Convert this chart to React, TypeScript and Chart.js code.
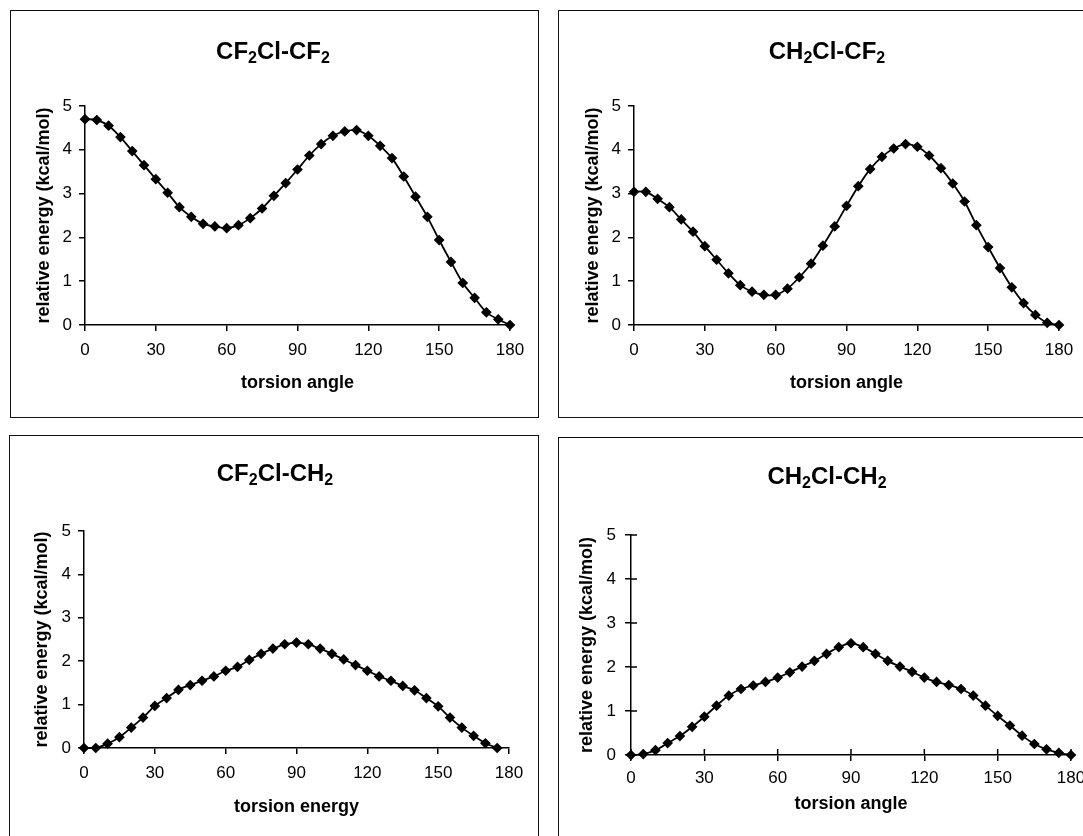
import React, { useEffect, useRef } from "react";
import { Chart, registerables } from "chart.js";

Chart.register(...registerables);

// ---------- data ----------
const angles = [0, 5, 10, 15, 20, 25, 30, 35, 40, 45, 50, 55, 60, 65, 70, 75, 80, 85, 90, 95, 100, 105, 110, 115, 120, 125, 130, 135, 140, 145, 150, 155, 160, 165, 170, 175, 180];
const xTickValues = [0, 30, 60, 90, 120, 150, 180];
const yTickValues = [0, 1, 2, 3, 4, 5];

const cf2clCf2 = [4.70, 4.68, 4.55, 4.29, 3.97, 3.65, 3.33, 3.02, 2.69, 2.47, 2.31, 2.25, 2.21, 2.28, 2.44, 2.66, 2.95, 3.24, 3.55, 3.87, 4.13, 4.32, 4.42, 4.45, 4.32, 4.09, 3.81, 3.39, 2.93, 2.47, 1.94, 1.44, 0.96, 0.62, 0.29, 0.13, 0.0];
const ch2clCf2 = [3.04, 3.04, 2.88, 2.69, 2.41, 2.13, 1.80, 1.49, 1.18, 0.91, 0.76, 0.69, 0.69, 0.83, 1.09, 1.40, 1.81, 2.25, 2.72, 3.17, 3.56, 3.84, 4.03, 4.13, 4.07, 3.87, 3.58, 3.23, 2.82, 2.28, 1.78, 1.30, 0.86, 0.50, 0.23, 0.05, 0.0];
const cf2clCh2 = [0, 0, 0.10, 0.25, 0.47, 0.70, 0.97, 1.15, 1.34, 1.45, 1.55, 1.65, 1.78, 1.87, 2.03, 2.17, 2.29, 2.39, 2.43, 2.39, 2.29, 2.17, 2.04, 1.91, 1.78, 1.65, 1.55, 1.43, 1.33, 1.15, 0.96, 0.70, 0.47, 0.28, 0.11, 0];
const ch2clCh2 = [0, 0.02, 0.11, 0.27, 0.43, 0.64, 0.87, 1.12, 1.35, 1.50, 1.58, 1.66, 1.76, 1.88, 2.01, 2.14, 2.30, 2.45, 2.54, 2.45, 2.30, 2.14, 2.01, 1.89, 1.76, 1.66, 1.59, 1.50, 1.35, 1.12, 0.89, 0.67, 0.44, 0.25, 0.13, 0.05, 0];

const titles: [string, boolean][][] = [
  [["CF", false], ["2", true], ["Cl-CF", false], ["2", true]],
  [["CH", false], ["2", true], ["Cl-CF", false], ["2", true]],
  [["CF", false], ["2", true], ["Cl-CH", false], ["2", true]],
  [["CH", false], ["2", true], ["Cl-CH", false], ["2", true]],
];
const xTitles = ["torsion angle", "torsion angle", "torsion energy", "torsion angle"];
const yTitle = "relative energy (kcal/mol)";
const seriesList = [cf2clCf2, ch2clCf2, cf2clCh2, ch2clCh2];

// ---------- layout (page coordinates) ----------
const FONT = "'Liberation Sans', Arial, sans-serif";
type Layout = {
  frame: { l: number; t: number; r: number; b: number };
  area: { l: number; t: number; r: number; b: number };
  titleX: number; titleY: number; xTitleY: number; yTitleX: number;
  xPad: number; yPad: number; cross: boolean;
};
const layouts: Layout[] = [
  { frame: { l: 11, t: 11, r: 538, b: 417 }, area: { l: 85, t: 106, r: 510, b: 325 }, titleX: 273, titleY: 50, xTitleY: 383, yTitleX: 44, xPad: 9, yPad: 7, cross: false },
  { frame: { l: 559, t: 11, r: 1095, b: 417 }, area: { l: 634, t: 106, r: 1059, b: 325 }, titleX: 827, titleY: 50, xTitleY: 383, yTitleX: 593, xPad: 9, yPad: 7, cross: false },
  { frame: { l: 10, t: 436, r: 538, b: 860 }, area: { l: 84, t: 531, r: 509, b: 748 }, titleX: 275, titleY: 472, xTitleY: 807, yTitleX: 42, xPad: 9, yPad: 7, cross: false },
  { frame: { l: 559, t: 438, r: 1095, b: 860 }, area: { l: 631, t: 535, r: 1071, b: 755 }, titleX: 827, titleY: 475, xTitleY: 804, yTitleX: 587, xPad: 7, yPad: 9, cross: true },
];

function makeTextPlugin(idx: number) {
  const L = layouts[idx];
  const ox = L.frame.l, oy = L.frame.t;
  return {
    id: "panelText" + idx,
    afterDraw(chart: any) {
      const { ctx, chartArea } = chart;
      ctx.save();
      ctx.fillStyle = "#000";
      // panel title with subscripts
      const big = `bold 24px ${FONT}`;
      const small = `bold 16px ${FONT}`;
      let total = 0;
      for (const [t, sub] of titles[idx]) {
        ctx.font = sub ? small : big;
        total += ctx.measureText(t).width;
      }
      let x = L.titleX - ox - total / 2;
      const base = L.titleY - oy + 8.5;
      ctx.textAlign = "left";
      ctx.textBaseline = "alphabetic";
      for (const [t, sub] of titles[idx]) {
        ctx.font = sub ? small : big;
        ctx.fillText(t, x, sub ? base + 4 : base);
        x += ctx.measureText(t).width;
      }
      // x title
      ctx.font = `bold 18px ${FONT}`;
      ctx.textAlign = "center";
      ctx.textBaseline = "middle";
      ctx.fillText(xTitles[idx], (chartArea.left + chartArea.right) / 2, L.xTitleY - oy);
      // y title
      ctx.save();
      ctx.translate(L.yTitleX - ox, (chartArea.top + chartArea.bottom) / 2);
      ctx.rotate(-Math.PI / 2);
      ctx.fillText(yTitle, 0, 0);
      ctx.restore();
      // inward tick marks (crossing ticks)
      if (L.cross) {
        const xs = chart.scales.x, ys = chart.scales.y;
        ctx.strokeStyle = "#000";
        ctx.lineWidth = 1.5;
        ctx.beginPath();
        for (const v of xTickValues) {
          const px = xs.getPixelForValue(v);
          ctx.moveTo(px, chartArea.bottom);
          ctx.lineTo(px, chartArea.bottom - 6);
        }
        for (const v of yTickValues) {
          const py = ys.getPixelForValue(v);
          ctx.moveTo(chartArea.left, py);
          ctx.lineTo(chartArea.left + 6, py);
        }
        ctx.stroke();
      }
      ctx.restore();
    },
  };
}

function Panel({ idx }: { idx: number }) {
  const ref = useRef<HTMLCanvasElement | null>(null);
  const L = layouts[idx];
  const w = L.frame.r - L.frame.l;
  const h = L.frame.b - L.frame.t;
  useEffect(() => {
    if (!ref.current) return;
    const values = seriesList[idx];
    const data = values.map((v, i) => ({ x: angles[i], y: v }));
    const chart = new Chart(ref.current, {
      type: "line",
      data: {
        datasets: [
          {
            data,
            borderColor: "#000",
            borderWidth: 1.8,
            backgroundColor: "#000",
            pointStyle: "rectRot",
            pointRadius: 4.5,
            pointBorderWidth: 1.2,
            pointBackgroundColor: "#000",
            pointBorderColor: "#000",
            tension: 0.3,
            fill: false,
            clip: false as any,
          },
        ],
      },
      options: {
        animation: false,
        responsive: false,
        devicePixelRatio: 1,
        events: [],
        layout: {
          padding: { left: 0, top: L.area.t - L.frame.t, right: L.frame.r - L.area.r, bottom: 0 },
        },
        plugins: { legend: { display: false }, tooltip: { enabled: false }, title: { display: false } },
        scales: {
          x: {
            type: "linear",
            min: 0,
            max: 180,
            afterBuildTicks: (s: any) => { s.ticks = xTickValues.map((v) => ({ value: v })); },
            afterFit: (s: any) => { s.height = L.frame.b - L.area.b; },
            ticks: { color: "#000", font: { size: 17, family: FONT }, padding: L.xPad, maxRotation: 0, autoSkip: false },
            grid: { display: true, drawOnChartArea: false, drawTicks: true, tickLength: 6, color: "#000", lineWidth: 1.5 },
            border: { display: true, color: "#000", width: 1.5 },
          },
          y: {
            type: "linear",
            min: 0,
            max: 5,
            afterBuildTicks: (s: any) => { s.ticks = yTickValues.map((v) => ({ value: v })); },
            afterFit: (s: any) => { s.width = L.area.l - L.frame.l; },
            ticks: { color: "#000", font: { size: 17, family: FONT }, padding: L.yPad },
            grid: { display: true, drawOnChartArea: false, drawTicks: true, tickLength: 6, color: "#000", lineWidth: 1.5 },
            border: { display: true, color: "#000", width: 1.5 },
          },
        },
      },
      plugins: [makeTextPlugin(idx)],
    });
    return () => chart.destroy();
  }, [idx]);
  return (
    <>
      <canvas
        ref={ref}
        width={w}
        height={h}
        style={{ position: "absolute", left: L.frame.l, top: L.frame.t, width: w, height: h }}
      />
      <div
        style={{
          position: "absolute",
          left: L.frame.l - 1,
          top: L.frame.t - 1,
          width: w + 2,
          height: h + 2,
          border: "1.5px solid #111",
          boxSizing: "border-box",
          pointerEvents: "none",
        }}
      />
    </>
  );
}

export default function App() {
  return (
    <div
      style={{
        position: "absolute",
        left: 0,
        top: 0,
        width: 1083,
        height: 836,
        overflow: "hidden",
        background: "#fff",
      }}
    >
      {[0, 1, 2, 3].map((i) => (
        <Panel key={i} idx={i} />
      ))}
    </div>
  );
}
